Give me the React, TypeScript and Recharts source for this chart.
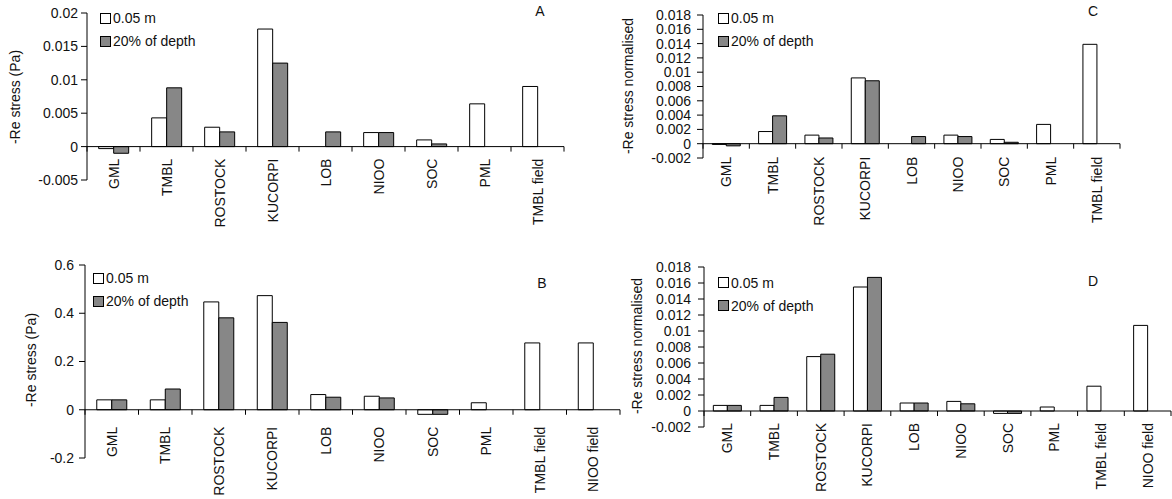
import React from "react";
import {
  BarChart, Bar, XAxis, YAxis, ReferenceLine, Legend
} from "recharts";

// categories
const catsShort = ["GML", "TMBL", "ROSTOCK", "KUCORPI", "LOB", "NIOO", "SOC", "PML", "TMBL field"];
const catsLong = ["GML", "TMBL", "ROSTOCK", "KUCORPI", "LOB", "NIOO", "SOC", "PML", "TMBL field", "NIOO field"];

// A: -Re stress (Pa)
const a05 = [-0.0003, 0.0043, 0.0029, 0.0176, null, 0.0021, 0.001, 0.0064, 0.009];
const a20 = [-0.001, 0.0088, 0.0022, 0.0125, 0.0022, 0.0021, 0.0004, null, null];
const aTicks = [-0.005, 0, 0.005, 0.01, 0.015, 0.02];

// C: -Re stress normalised
const c05 = [-0.0001, 0.0017, 0.0012, 0.0092, null, 0.0012, 0.0006, 0.0027, 0.0139];
const c20 = [-0.0003, 0.0039, 0.0008, 0.0088, 0.001, 0.001, 0.0002, null, null];
const normTicks = [-0.002, 0, 0.002, 0.004, 0.006, 0.008, 0.01, 0.012, 0.014, 0.016, 0.018];

// B: -Re stress (Pa)
const b05 = [0.041, 0.041, 0.447, 0.473, 0.063, 0.056, -0.019, 0.029, 0.277, 0.277];
const b20 = [0.041, 0.086, 0.381, 0.362, 0.052, 0.049, -0.019, null, null, null];
const bTicks = [-0.2, 0, 0.2, 0.4, 0.6];

// D: -Re stress normalised
const d05 = [0.0007, 0.0007, 0.0068, 0.0155, 0.001, 0.0012, -0.0003, 0.0005, 0.0031, 0.0107];
const d20 = [0.0007, 0.0017, 0.0071, 0.0167, 0.001, 0.0009, -0.0003, null, null, null];

const FONT = '"Liberation Sans", Arial, sans-serif';
const GREY = "#878787";

function makeTick(n: number, bw: number, zeroOff: number, gap: number) {
  return (props: any) => {
    const { x, y, payload, index } = props;
    const zy = y - zeroOff;
    return (
      <g>
        <line x1={x - bw / 2} x2={x - bw / 2} y1={zy} y2={zy + 5} stroke="#000" />
        {index === n - 1 && <line x1={x + bw / 2} x2={x + bw / 2} y1={zy} y2={zy + 5} stroke="#000" />}
        <text
          transform={`translate(${x},${zy + gap}) rotate(-90)`}
          textAnchor="end"
          dominantBaseline="central"
          fontSize={14}
          fontFamily={FONT}
          fill="#111"
        >
          {payload.value}
        </text>
      </g>
    );
  };
}

const legendContent = (props: any) => (
  <div style={{ fontFamily: FONT, fontSize: 14, color: "#111" }}>
    {(props.payload || []).map((p: any) => (
      <div key={p.value} style={{ display: "flex", alignItems: "center", height: 23 }}>
        <span style={{ width: 9, height: 9, border: "1px solid #000", background: p.color, marginRight: 2 }} />
        <span>{p.value}</span>
      </div>
    ))}
  </div>
);

type PanelProps = {
  left: number; top: number; width: number; height: number;
  marginTop: number; marginRight: number; yAxisWidth: number; xAxisHeight: number;
  cats: string[]; s05: (number | null)[]; s20: (number | null)[];
  ticks: number[]; gap: string; labelGap: number; tickMargin: number;
  ylabel: string; ylabelX: number; ylabelY: number;
  letter: string; letterX: number; letterY: number;
  legendX: number; legendY: number;
};

function Panel(p: PanelProps) {
  const data = p.cats.map((c, i) => ({ name: c, s05: p.s05[i], s20: p.s20[i] }));
  const min = p.ticks[0];
  const max = p.ticks[p.ticks.length - 1];
  const plotW = p.width - p.yAxisWidth - p.marginRight;
  const plotH = p.height - p.marginTop - p.xAxisHeight;
  const bw = plotW / p.cats.length;
  const zeroOff = (plotH * (0 - min)) / (max - min);
  return (
    <>
      <div style={{ position: "absolute", left: p.left, top: p.top }}>
        <BarChart
          width={p.width}
          height={p.height}
          data={data}
          margin={{ top: p.marginTop, right: p.marginRight, bottom: 0, left: 0 }}
          barCategoryGap={p.gap}
          barGap={0}
        >
          <XAxis
            dataKey="name"
            interval={0}
            height={p.xAxisHeight}
            axisLine={false}
            tickLine={false}
            tickSize={0}
            tickMargin={0}
            tick={makeTick(p.cats.length, bw, zeroOff, p.labelGap)}
          />
          <YAxis
            width={p.yAxisWidth}
            domain={[min, max]}
            ticks={p.ticks}
            interval={0}
            axisLine={{ stroke: "#000" }}
            tickLine={{ stroke: "#000" }}
            tickSize={6}
            tickMargin={p.tickMargin}
            tick={{ fill: "#111", fontSize: 14, fontFamily: FONT }}
          />
          <Legend
            layout="horizontal"
            verticalAlign="middle"
            align="center"
            content={legendContent}
            wrapperStyle={{ left: p.legendX, top: p.legendY, width: "auto" }}
          />
          <Bar dataKey="s05" name="0.05 m" fill="#ffffff" stroke="#000" strokeWidth={1} isAnimationActive={false} />
          <Bar dataKey="s20" name="20% of depth" fill={GREY} stroke="#000" strokeWidth={1} isAnimationActive={false} />
          <ReferenceLine y={0} stroke="#000" strokeWidth={1} />
        </BarChart>
      </div>
      <div
        style={{
          position: "absolute", left: p.ylabelX, top: p.ylabelY,
          transform: "translate(-50%,-50%) rotate(-90deg)", whiteSpace: "nowrap",
          fontFamily: FONT, fontSize: 14, color: "#111",
        }}
      >
        {p.ylabel}
      </div>
      <div
        style={{
          position: "absolute", left: p.letterX, top: p.letterY,
          transform: "translate(-50%,-50%)", fontFamily: FONT, fontSize: 14, color: "#111",
        }}
      >
        {p.letter}
      </div>
    </>
  );
}

export default function App() {
  return (
    <div style={{ position: "absolute", left: 0, top: 0, width: 1172, height: 499, background: "#fff", overflow: "hidden" }}>
      <Panel
        left={0} top={0} width={570} height={245}
        marginTop={13} marginRight={6} yAxisWidth={87} xAxisHeight={65}
        cats={catsShort} s05={a05} s20={a20} ticks={aTicks} gap="22%" labelGap={12} tickMargin={3}
        ylabel="-Re stress (Pa)" ylabelX={15} ylabelY={97}
        letter="A" letterX={540} letterY={11}
        legendX={100} legendY={6.5}
      />
      <Panel
        left={590} top={0} width={582} height={245}
        marginTop={15} marginRight={52} yAxisWidth={113} xAxisHeight={87}
        cats={catsShort} s05={c05} s20={c20} ticks={normTicks} gap="20%" labelGap={13} tickMargin={6}
        ylabel="-Re stress normalised" ylabelX={628} ylabelY={86}
        letter="C" letterX={1093} letterY={11}
        legendX={128} legendY={6.5}
      />
      <Panel
        left={0} top={250} width={625} height={249}
        marginTop={15} marginRight={5} yAxisWidth={85} xAxisHeight={41}
        cats={catsLong} s05={b05} s20={b20} ticks={bTicks} gap="22%" labelGap={17} tickMargin={5}
        ylabel="-Re stress (Pa)" ylabelX={31} ylabelY={360}
        letter="B" letterX={542} letterY={283}
        legendX={93} legendY={16.5}
      />
      <Panel
        left={590} top={250} width={582} height={249}
        marginTop={17} marginRight={1} yAxisWidth={114} xAxisHeight={72}
        cats={catsLong} s05={d05} s20={d20} ticks={normTicks} gap="20%" labelGap={12} tickMargin={7}
        ylabel="-Re stress normalised" ylabelX={637} ylabelY={346}
        letter="D" letterX={1093} letterY={281}
        legendX={128} legendY={21}
      />
    </div>
  );
}
